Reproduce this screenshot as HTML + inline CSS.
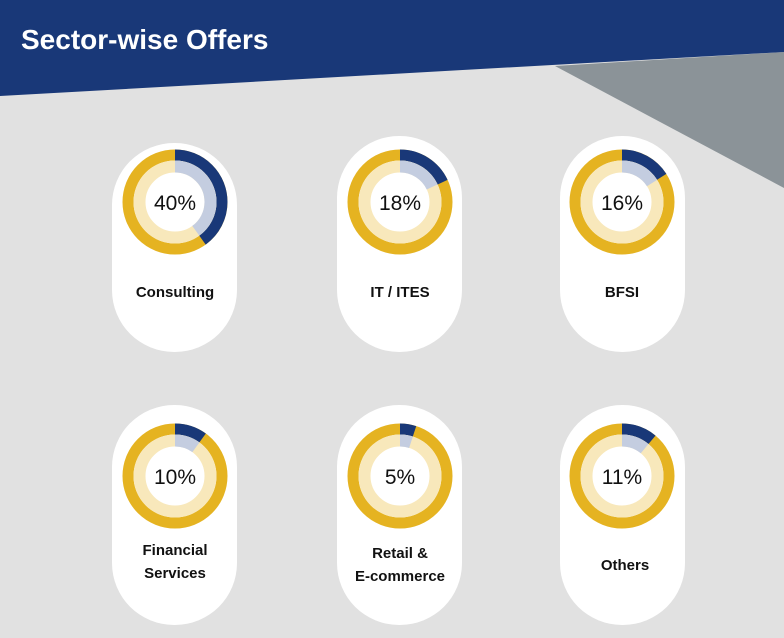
<!DOCTYPE html>
<html><head><style>
html,body{margin:0;padding:0}
body{width:784px;height:638px;overflow:hidden;background:#e1e1e1;font-family:"Liberation Sans",sans-serif}
</style></head><body>
<svg width="784" height="638" xmlns="http://www.w3.org/2000/svg" style="position:absolute;left:0;top:0">
<rect width="784" height="638" fill="#e1e1e1"/>
<polygon points="555,66 784,52 784,188" fill="#8b9398"/>
<polygon points="0,0 784,0 784,52 0,96" fill="#193878"/>
<text x="21" y="49" fill="#fff" font-size="28" font-weight="bold" font-family="Liberation Sans Narrow, Liberation Sans, sans-serif">Sector-wise Offers</text>

<g fill="#fff">
<rect x="112" y="143" width="125" height="209" rx="62"/>
<rect x="337" y="136" width="125" height="216" rx="62"/>
<rect x="560" y="136" width="125" height="216" rx="62"/>
<rect x="112" y="405" width="125" height="220" rx="62"/>
<rect x="337" y="405" width="125" height="220" rx="62"/>
<rect x="560" y="405" width="125" height="220" rx="62"/>
</g>

<g fill="none">
<g transform="translate(175,202) rotate(-90)">
<circle r="47" stroke="#e5b321" stroke-width="11"/>
<circle r="47" stroke="#193878" stroke-width="11" stroke-dasharray="118.1 300"/>
<circle r="35.5" stroke="#f8e8bb" stroke-width="12"/>
<circle r="35.5" stroke="#c4cde0" stroke-width="12" stroke-dasharray="89.2 300"/>
</g>
<g transform="translate(400,202) rotate(-90)">
<circle r="47" stroke="#e5b321" stroke-width="11"/>
<circle r="47" stroke="#193878" stroke-width="11" stroke-dasharray="53.2 300"/>
<circle r="35.5" stroke="#f8e8bb" stroke-width="12"/>
<circle r="35.5" stroke="#c4cde0" stroke-width="12" stroke-dasharray="40.1 300"/>
</g>
<g transform="translate(622,202) rotate(-90)">
<circle r="47" stroke="#e5b321" stroke-width="11"/>
<circle r="47" stroke="#193878" stroke-width="11" stroke-dasharray="47.2 300"/>
<circle r="35.5" stroke="#f8e8bb" stroke-width="12"/>
<circle r="35.5" stroke="#c4cde0" stroke-width="12" stroke-dasharray="35.7 300"/>
</g>
<g transform="translate(175,476) rotate(-90)">
<circle r="47" stroke="#e5b321" stroke-width="11"/>
<circle r="47" stroke="#193878" stroke-width="11" stroke-dasharray="29.5 300"/>
<circle r="35.5" stroke="#f8e8bb" stroke-width="12"/>
<circle r="35.5" stroke="#c4cde0" stroke-width="12" stroke-dasharray="22.3 300"/>
</g>
<g transform="translate(400,476) rotate(-90)">
<circle r="47" stroke="#e5b321" stroke-width="11"/>
<circle r="47" stroke="#193878" stroke-width="11" stroke-dasharray="14.8 300"/>
<circle r="35.5" stroke="#f8e8bb" stroke-width="12"/>
<circle r="35.5" stroke="#c4cde0" stroke-width="12" stroke-dasharray="11.2 300"/>
</g>
<g transform="translate(622,476) rotate(-90)">
<circle r="47" stroke="#e5b321" stroke-width="11"/>
<circle r="47" stroke="#193878" stroke-width="11" stroke-dasharray="32.5 300"/>
<circle r="35.5" stroke="#f8e8bb" stroke-width="12"/>
<circle r="35.5" stroke="#c4cde0" stroke-width="12" stroke-dasharray="24.5 300"/>
</g>
</g>

<g font-size="21" fill="#111" text-anchor="middle">
<text x="175" y="210">40%</text>
<text x="400" y="210">18%</text>
<text x="622" y="210">16%</text>
<text x="175" y="484">10%</text>
<text x="400" y="484">5%</text>
<text x="622" y="484">11%</text>
</g>
<g font-size="15" fill="#111" text-anchor="middle" font-weight="bold" font-family="Liberation Sans Narrow, Liberation Sans, sans-serif">
<text x="175" y="297">Consulting</text>
<text x="400" y="297">IT / ITES</text>
<text x="622" y="297">BFSI</text>
<text x="175" y="555">Financial</text>
<text x="175" y="578">Services</text>
<text x="400" y="558">Retail &amp;</text>
<text x="400" y="581">E-commerce</text>
<text x="625" y="570">Others</text>
</g>
</svg>
</body></html>
